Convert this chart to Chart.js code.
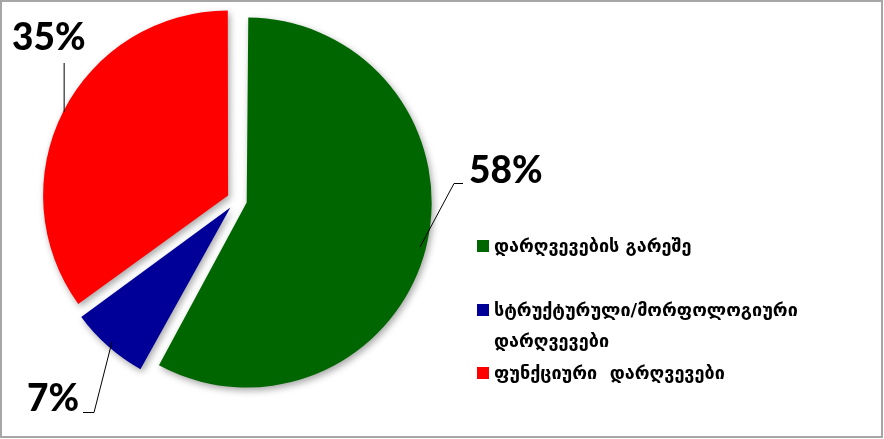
<!DOCTYPE html>
<html>
<head>
<meta charset="utf-8">
<script src="https://cdn.jsdelivr.net/npm/chart.js@4/dist/chart.umd.min.js"></script>
<style>
    html, body { margin: 0; padding: 0; background: #fff; }
    #wrap { width: 884px; height: 439px; }
</style>
</head>
<body>
<div id="wrap"><canvas id="graph" width="884" height="439"></canvas></div>
<script>
// Chart data
const categories = ['დარღვევების გარეშე', 'სტრუქტურული/მორფოლოგიური დარღვევები', 'ფუნქციური  დარღვევები'];
const legendLines = [['დარღვევების გარეშე'], ['სტრუქტურული/მორფოლოგიური', 'დარღვევები'], ['ფუნქციური  დარღვევები']];
const values = [58, 7, 35];
const percentLabels = ['58%', '7%', '35%'];
const colors = ['#006600', '#000099', '#ff0000'];

const explode = 40;   // chart.js draws offset / 4
const pieRadius = 185;

// Keep all slices the same radius (chart.js grows exploded arcs a little)
const evenRadius = {
    id: 'evenRadius',
    beforeDatasetDraw(chart, args) {
        const ctrl = args.meta.controller;
        args.meta.data.forEach(arc => {
            const circ = arc.endAngle - arc.startAngle;
            const fix = 1 - Math.sin(Math.min(Math.PI, circ));
            arc.outerRadius = ctrl.outerRadius - (explode / 4) * fix;
        });
        const ctx = chart.ctx;
        ctx.save();
        ctx.shadowColor = 'rgba(0,0,0,0.35)';
        ctx.shadowBlur = 7;
        ctx.shadowOffsetX = 2;
        ctx.shadowOffsetY = 3;
    },
    afterDatasetDraw(chart) {
        chart.ctx.restore();
    }
};

// Percent labels with leader lines, legend and frame
const decorations = {
    id: 'decorations',
    afterDraw(chart) {
        const ctx = chart.ctx;
        const arcs = chart.getDatasetMeta(0).data;
        const radius = chart.getDatasetMeta(0).controller.outerRadius;
        ctx.save();

        // leader lines start on each slice's edge at its middle angle
        const anchor = (i, inset) => {
            const a = arcs[i];
            const mid = (a.startAngle + a.endAngle) / 2;
            const s = explode / 4;
            const cx = a.x + Math.cos(mid) * s;
            const cy = a.y + Math.sin(mid) * s;
            const r = radius - inset;
            return { x: cx + Math.cos(mid) * r, y: cy + Math.sin(mid) * r };
        };

        ctx.strokeStyle = '#000';
        ctx.lineWidth = 1;
        ctx.font = '900 37px Lato, "Open Sans", sans-serif';
        ctx.fillStyle = '#000';
        ctx.textBaseline = 'middle';
        ctx.textAlign = 'left';

        // 58%
        let p = anchor(0, 6);
        ctx.beginPath();
        ctx.moveTo(p.x, p.y);
        ctx.lineTo(454, 183.5);
        ctx.lineTo(463, 183.5);
        ctx.stroke();
        ctx.fillText(percentLabels[0], 469, 171);

        // 7%
        p = anchor(1, 6);
        ctx.beginPath();
        ctx.moveTo(p.x, p.y);
        ctx.lineTo(94, 412.5);
        ctx.lineTo(83, 412.5);
        ctx.stroke();
        ctx.fillText(percentLabels[1], 27, 399);

        // 35%
        p = anchor(2, 1);
        ctx.beginPath();
        ctx.moveTo(p.x, p.y);
        ctx.lineTo(p.x, 63);
        ctx.stroke();
        ctx.fillText(percentLabels[2], 12, 38);

        // legend
        ctx.font = 'bold 18px "DejaVu Sans", sans-serif';
        const rows = [[246], [310, 341], [373]];
        legendLines.forEach((lines, i) => {
            ctx.fillStyle = colors[i];
            ctx.fillRect(477, rows[i][0] - 6, 12, 12);
            ctx.fillStyle = '#000';
            lines.forEach((t, j) => ctx.fillText(t, 494, rows[i][j] + 1));
        });

        // frame
        ctx.strokeStyle = '#a6a6a6';
        ctx.lineWidth = 2;
        ctx.strokeRect(1, 1, 881, 436);
        ctx.restore();
    }
};

Chart.register(evenRadius, decorations);

new Chart(document.getElementById('graph').getContext('2d'), {
    type: 'pie',
    data: {
        labels: categories,
        datasets: [{
            data: values,
            backgroundColor: colors,
            borderWidth: 0,
            offset: explode
        }]
    },
    options: {
        responsive: false,
        animation: false,
        radius: pieRadius,
        layout: { padding: { left: 0, top: 0, right: 410, bottom: 39 } },
        plugins: {
            legend: { display: false },
            tooltip: { enabled: false }
        }
    }
});
</script>
</body>
</html>
